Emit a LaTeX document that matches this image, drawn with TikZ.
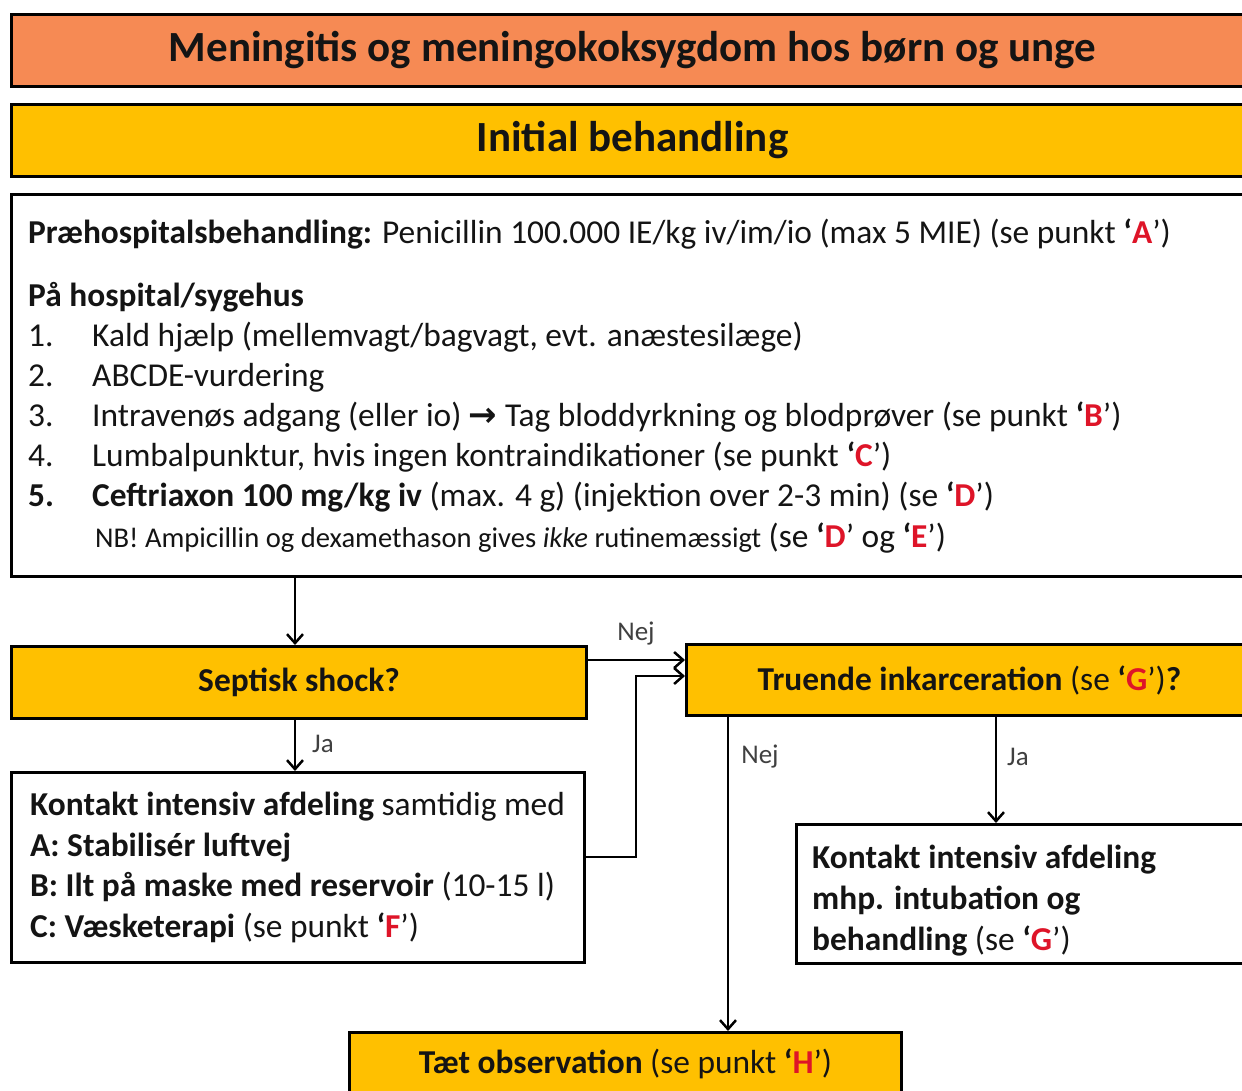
\documentclass[tikz,border=0pt]{standalone}
\usepackage{fontspec}
\setmainfont{Carlito}
\newfontfamily\symf{DejaVu Sans}
\usetikzlibrary{arrows.meta}
\definecolor{gold}{RGB}{255,192,0}
\definecolor{coral}{RGB}{246,138,84}
\definecolor{refred}{RGB}{222,20,40}
\definecolor{ink}{RGB}{20,20,20}
\definecolor{lbl}{RGB}{64,64,64}
\newcommand{\rl}[1]{\textbf{‘}{\bfseries\color{refred}#1}’}
\newcommand{\fbody}{\fontsize{33.4}{40}\selectfont}
\newcommand{\fsmall}{\fontsize{28.6}{34}\selectfont}
\newcommand{\ftitle}{\fontsize{43}{50}\selectfont\bfseries}
\newcommand{\flab}{\fontsize{27}{32}\selectfont}
\tikzset{
  box/.style={draw=black, line width=3pt, inner sep=0pt, anchor=north west, text=ink},
  goldbox/.style={box, fill=gold},
  txt/.style={anchor=base west, inner sep=0pt, text=ink, font=\fbody},
  arr/.style={line width=2.5pt, -{Straight Barb[length=9pt,width=16pt]}},
  lab/.style={text=lbl, font=\flab, inner sep=0pt}
}
\begin{document}
\begin{tikzpicture}[x=1pt,y=-1pt]
\useasboundingbox (0,0) rectangle (1242,1091);
\clip (0,0) rectangle (1242,1091);
\fill[white] (0,0) rectangle (1242,1091);
% boxes
\node[box, fill=coral, minimum width=1242, minimum height=72, font=\ftitle] (title) at (10,13) {Meningitis og meningokoksygdom hos børn og unge};
\node[goldbox, minimum width=1242, minimum height=72, font=\ftitle] (init) at (10,103) {Initial behandling};
\node[box, fill=white, minimum width=1260, minimum height=382] (main) at (10,193) {};
\node[goldbox, minimum width=575, minimum height=72, font=\fbody] (sep) at (10,645) {\textbf{Septisk shock?}};
\node[goldbox, minimum width=566, minimum height=71, font=\fbody] (tru) at (685,643) {\textbf{Truende inkarceration} (se \rl{G})\textbf{?}};
\node[box, fill=white, minimum width=573, minimum height=190] (k1) at (10,771) {};
\node[box, fill=white, minimum width=500, minimum height=139] (k2) at (795,823) {};
\node[goldbox, minimum width=552, minimum height=62, font=\fbody] (taet) at (348,1031) {\textbf{Tæt observation} (se punkt \rl{H})};
% main box text
\node[txt] (m1) at (28,244) {\textbf{Præhospitalsbehandling:} Penicillin 100.000 IE/kg iv/im/io (max 5 MIE) (se punkt \rl{A})};
\node[txt] (m2) at (28,306) {\textbf{På hospital/sygehus}};
\node[txt] (n1) at (28,346) {1.};
\node[txt] (i1) at (92,346) {Kald hjælp (mellemvagt/bagvagt, evt. anæstesilæge)};
\node[txt] (n2) at (28,386) {2.};
\node[txt] (i2) at (92,386) {ABCDE-vurdering};
\node[txt] (n3) at (28,426) {3.};
\node[txt] (i3) at (92,426) {Intravenøs adgang (eller io) {\symf\bfseries\fontsize{34}{40}\selectfont →} Tag bloddyrkning og blodprøver (se punkt \rl{B})};
\node[txt] (n4) at (28,466) {4.};
\node[txt] (i4) at (92,466) {Lumbalpunktur, hvis ingen kontraindikationer (se punkt \rl{C})};
\node[txt] (n5) at (28,506) {\textbf{5.}};
\node[txt] (i5) at (92,506) {\textbf{Ceftriaxon 100 mg/kg iv} (max. 4 g) (injektion over 2-3 min) (se \rl{D})};
\node[txt] (nb) at (95,547) {{\fsmall NB! Ampicillin og dexamethason gives \textit{ikke} rutinemæssigt} (se \rl{D} og \rl{E})};
% left contact box text
\node[txt] (k1a) at (30,815) {\textbf{Kontakt intensiv afdeling} samtidig med};
\node[txt] (k1b) at (30,856) {\textbf{A: Stabilisér luftvej}};
\node[txt] (k1c) at (30,896) {\textbf{B: Ilt på maske med reservoir} (10-15 l)};
\node[txt] (k1d) at (30,937) {\textbf{C: Væsketerapi} (se punkt \rl{F})};
% right contact box text
\node[txt] (k2a) at (812,868) {\textbf{Kontakt intensiv afdeling}};
\node[txt] (k2b) at (812,909) {\textbf{mhp. intubation og}};
\node[txt] (k2c) at (812,950) {\textbf{behandling} (se \rl{G})};
% connectors
\coordinate (c1) at (295,0);
\coordinate (c2) at (0,660);
\coordinate (c3) at (0,857);
\coordinate (c4) at (636,0);
\coordinate (c5) at (0,676);
\coordinate (c6) at (728,0);
\coordinate (c7) at (996,0);
\draw[arr] (c1 |- main.south) -- (c1 |- sep.north);
\draw[arr] (c1 |- sep.south) -- (c1 |- k1.north);
\draw[arr] (sep.east |- c2) -- (tru.west |- c2);
\draw[arr] (k1.east |- c3) -- (c4 |- c3) -- (c4 |- c5) -- (tru.west |- c5);
\draw[arr] (c6 |- tru.south) -- (c6 |- taet.north);
\draw[arr] (c7 |- tru.south) -- (c7 |- k2.north);
% labels
\node[lab] (l1) at (636,634) {Nej};
\node[lab] (l2) at (323,744) {Ja};
\node[lab] (l3) at (760,757) {Nej};
\node[lab] (l4) at (1018,757) {Ja};
\end{tikzpicture}
\end{document}
